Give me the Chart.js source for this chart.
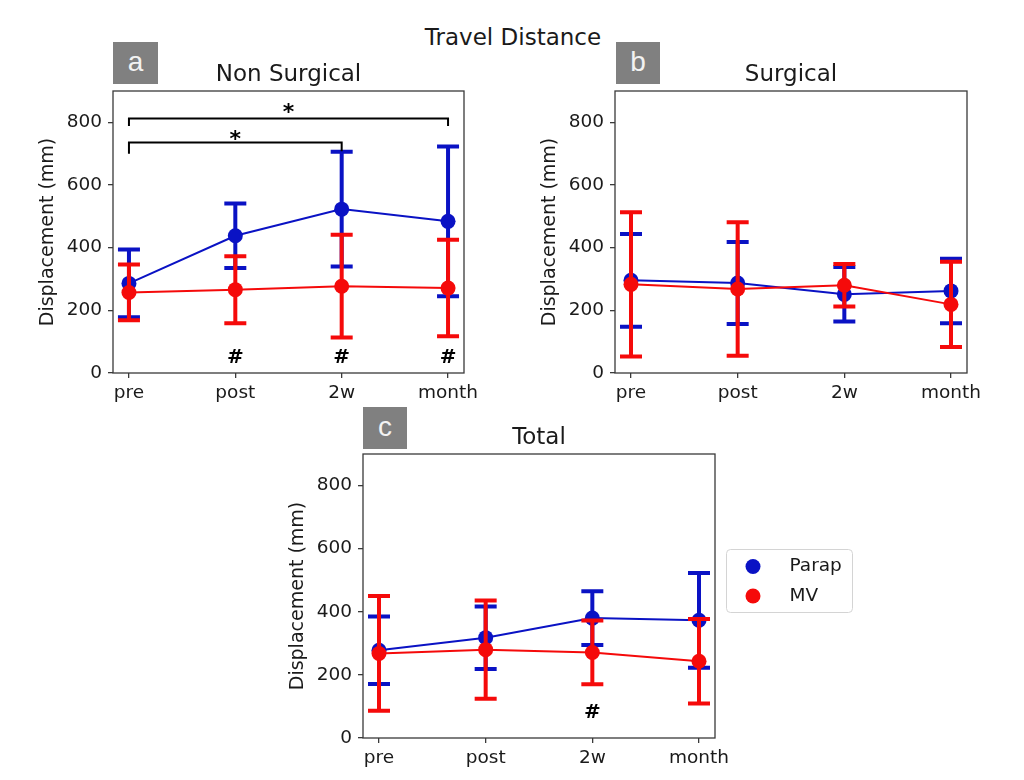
<!DOCTYPE html>
<html>
<head>
<meta charset="utf-8">
<script src="https://cdn.jsdelivr.net/npm/chart.js@4.4.1/dist/chart.umd.min.js"></script>
<style>
  body { margin: 0; background: #fff; width: 1024px; height: 780px; position: relative; overflow: hidden; }
  canvas { position: absolute; }
  #sup { position: absolute; left: 0; width: 1026px; top: 24px; line-height: 27px; text-align: center;
         font: 23px "DejaVu Sans"; color: #1a1a1a; }
  .tag { position: absolute; width: 45px; height: 42px; background: #808080; color: #f2f2f2;
         font: 28px "Liberation Sans"; line-height: 40px; text-align: center; z-index: 2; }
</style>
</head>
<body>
<div id="sup">Travel Distance</div>
<div class="tag" style="left:113px;top:42px">a</div>
<div class="tag" style="left:616px;top:42px;width:44px">b</div>
<div class="tag" style="left:363px;top:407px;width:44px">c</div>
<canvas id="ca" width="471" height="357" style="left:33px;top:61px"></canvas>
<canvas id="cb" width="472" height="357" style="left:535px;top:61px"></canvas>
<canvas id="cc" width="582" height="359" style="left:283px;top:424px"></canvas>
<script>
// les données
const timepoints = ['pre', 'post', '2w', 'month'];
const yTicks = [0, 200, 400, 600, 800];

// a : Non Surgical
const nonSurgParapMean = [286, 438, 523, 484];
const nonSurgParapErr  = [108, 103, 183, 239];
const nonSurgMvMean    = [257, 266, 277, 271];
const nonSurgMvErr     = [89, 107, 164, 154];
// b : Surgical
const surgParapMean = [296, 287, 251, 262];
const surgParapErr  = [148, 131, 87, 103];
const surgMvMean    = [283, 268, 280, 219];
const surgMvErr     = [230, 213, 68, 136];
// c : Total
const totalParapMean = [278, 318, 380, 373];
const totalParapErr  = [107, 99, 85, 150];
const totalMvMean    = [268, 280, 271, 243];
const totalMvErr     = [182, 156, 101, 134];

// significativité (valeurs en unités des axes)
const nonSurgBrackets = [
  { from: 0, to: 3, y: 812, leftTip: 788, rightTip: 788, star: 852 },
  { from: 0, to: 2, y: 736, leftTip: 700, rightTip: 708, star: 767 }
];
const nonSurgHash = [1, 2, 3];
const totalHash = [2];
const nonSurgHashLevel = 55;
const totalHashLevel = 85;

const BLUE = '#0a12c4';
const RED = '#f50a0a';
const INK = '#1a1a1a';
const FRAME = '#3a3a3a';
const FONT = 'DejaVu Sans';

// barres d'erreur dessinées avant chaque dataset
const errorBars = {
  id: 'errorBars',
  beforeDatasetDraw(chart, args) {
    const ds = chart.data.datasets[args.index];
    if (!ds.errors) return;
    const ys = chart.scales.y, ctx = chart.ctx;
    ctx.save();
    ctx.strokeStyle = ds.borderColor;
    ctx.lineWidth = 4;
    args.meta.data.forEach((pt, i) => {
      const m = ds.data[i].y, e = ds.errors[i];
      const top = ys.getPixelForValue(m + e), bot = ys.getPixelForValue(m - e);
      ctx.beginPath();
      ctx.moveTo(pt.x, top); ctx.lineTo(pt.x, bot);
      ctx.moveTo(pt.x - 11, top); ctx.lineTo(pt.x + 11, top);
      ctx.moveTo(pt.x - 11, bot); ctx.lineTo(pt.x + 11, bot);
      ctx.stroke();
    });
    ctx.restore();
  }
};

// cadre autour de la zone du graphe
const frame = {
  id: 'frame',
  afterDraw(chart) {
    const a = chart.chartArea, ctx = chart.ctx;
    ctx.save();
    ctx.strokeStyle = FRAME;
    ctx.lineWidth = 1.3;
    ctx.strokeRect(a.left, a.top, a.right - a.left, a.bottom - a.top);
    ctx.restore();
  }
};

function toPts(arr) {
  return arr.map((v, i) => ({ x: i, y: v }));
}

function marks(brackets, hashXs, hashLevel) {
  return {
    id: 'marks',
    afterDatasetsDraw(chart) {
      const xs = chart.scales.x, ys = chart.scales.y, ctx = chart.ctx;
      ctx.save();
      ctx.strokeStyle = '#000';
      ctx.fillStyle = '#000';
      ctx.lineWidth = 2;
      ctx.textAlign = 'center';
      ctx.textBaseline = 'alphabetic';
      brackets.forEach(b => {
        const x0 = xs.getPixelForValue(b.from), x1 = xs.getPixelForValue(b.to);
        const y = ys.getPixelForValue(b.y);
        ctx.beginPath();
        ctx.moveTo(x0, ys.getPixelForValue(b.leftTip));
        ctx.lineTo(x0, y); ctx.lineTo(x1, y);
        ctx.lineTo(x1, ys.getPixelForValue(b.rightTip));
        ctx.stroke();
        ctx.font = 'bold 22px "' + FONT + '"';
        ctx.fillText('*', xs.getPixelForValue((b.from + b.to) / 2), ys.getPixelForValue(b.star) + 13);
      });
      ctx.font = 'bold 20px "' + FONT + '"';
      hashXs.forEach(x => {
        ctx.fillText('#', xs.getPixelForValue(x), ys.getPixelForValue(hashLevel) + 7.3);
      });
      ctx.restore();
    }
  };
}

const legendBox = {
  id: 'legendBox',
  afterDraw(chart) {
    const a = chart.chartArea, ctx = chart.ctx;
    const left = a.right + 11, top = a.top + 95, w = 126, h = 63;
    ctx.save();
    ctx.fillStyle = 'rgba(255,255,255,0.8)';
    ctx.strokeStyle = '#d4d4d4';
    ctx.lineWidth = 1;
    ctx.beginPath();
    ctx.roundRect(left + 0.5, top + 0.5, w, h, 4);
    ctx.fill(); ctx.stroke();
    ctx.font = '18.5px "' + FONT + '"';
    ctx.textBaseline = 'middle';
    ctx.textAlign = 'left';
    chart.data.datasets.forEach((ds, i) => {
      const cy = top + 17.5 + i * 29.5;
      ctx.fillStyle = ds.borderColor;
      ctx.beginPath();
      ctx.arc(left + 27, cy, 7.5, 0, Math.PI * 2);
      ctx.fill();
      ctx.fillStyle = INK;
      ctx.fillText(ds.label, left + 63.5, cy);
    });
    ctx.restore();
  }
};

function makeChart(id, title, pMean, pErr, mMean, mErr, padRight, extra) {
  return new Chart(document.getElementById(id), {
    type: 'line',
    data: {
      datasets: [
        { label: 'Parap', data: toPts(pMean), errors: pErr, borderColor: BLUE, backgroundColor: BLUE,
          borderWidth: 2, pointRadius: 7.5, pointBorderWidth: 0, pointBackgroundColor: BLUE, order: 1 },
        { label: 'MV', data: toPts(mMean), errors: mErr, borderColor: RED, backgroundColor: RED,
          borderWidth: 2, pointRadius: 7.5, pointBorderWidth: 0, pointBackgroundColor: RED, order: 0 }
      ]
    },
    options: {
      responsive: false,
      animation: false,
      layout: { padding: { left: 0, top: 0, bottom: 0, right: padRight } },
      plugins: {
        legend: { display: false },
        tooltip: { enabled: false },
        title: { display: true, text: title, fullSize: false, color: INK,
                 font: { family: FONT, size: 23, weight: 'normal', lineHeight: 1.2 },
                 padding: { top: 0, bottom: 2.4 } }
      },
      scales: {
        x: {
          type: 'linear', min: -0.15, max: 3.15,
          afterBuildTicks: s => { s.ticks = timepoints.map((_, i) => ({ value: i })); },
          afterFit: s => { s.height = 45; },
          ticks: { callback: v => timepoints[v], color: INK, font: { family: FONT, size: 18.5 },
                   padding: 4, maxRotation: 0, autoSkip: false },
          grid: { drawOnChartArea: false, drawTicks: true, tickLength: 5, color: FRAME, lineWidth: 1.3 },
          border: { display: false }
        },
        y: {
          min: 0, max: 900,
          afterBuildTicks: s => { s.ticks = yTicks.map(v => ({ value: v })); },
          afterFit: s => { s.width = 80; },
          ticks: { color: INK, font: { family: FONT, size: 18.5 }, padding: 6 },
          grid: { drawOnChartArea: false, drawTicks: true, tickLength: 5, color: FRAME, lineWidth: 1.3 },
          border: { display: false },
          title: { display: true, text: 'Displacement (mm)', color: INK,
                   font: { family: FONT, size: 19 }, padding: { top: 4, bottom: 0 } }
        }
      }
    },
    plugins: [errorBars, frame].concat(extra)
  });
}

makeChart('ca', 'Non Surgical', nonSurgParapMean, nonSurgParapErr, nonSurgMvMean, nonSurgMvErr, 40,
  [marks(nonSurgBrackets, nonSurgHash, nonSurgHashLevel)]);
makeChart('cb', 'Surgical', surgParapMean, surgParapErr, surgMvMean, surgMvErr, 40, []);
makeChart('cc', 'Total', totalParapMean, totalParapErr, totalMvMean, totalMvErr, 150,
  [marks([], totalHash, totalHashLevel), legendBox]);
</script>
</body>
</html>
